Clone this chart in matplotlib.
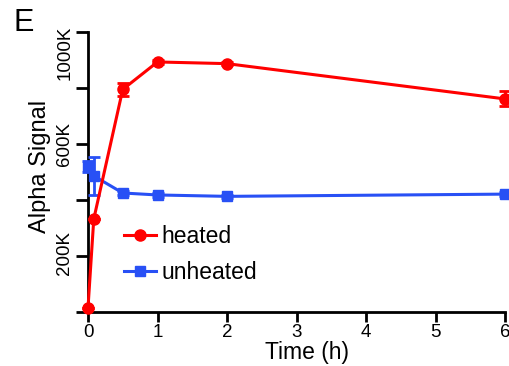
import matplotlib
matplotlib.use("Agg")
import matplotlib.pyplot as plt
from matplotlib.lines import Line2D

plt.rcParams['font.family'] = ['Liberation Sans', 'DejaVu Sans']

# ---- data ----
time_h = [0, 0.083, 0.5, 1, 2, 6]
heated = [15000, 332000, 795000, 893000, 887000, 761000]
heated_err = [0, 0, 23000, 6000, 6000, 27000]
unheated = [521000, 486000, 425000, 418000, 413000, 421000]
unheated_err = [20000, 68000, 8000, 6000, 6000, 6000]

x_ticks = [0, 1, 2, 3, 4, 5, 6]
x_ticklabels = ['0', '1', '2', '3', '4', '5', '6']
y_ticks = [0, 200000, 400000, 600000, 800000, 1000000]
y_label_vals = [200000, 600000, 1000000]
y_label_txt = ['200K', '600K', '1000K']

RED = '#FF0000'
BLUE = '#2850F5'

fig = plt.figure(figsize=(5.09, 3.66), dpi=100)
W, H = 509, 366
ax = fig.add_axes([88 / W, 54 / H, 417 / W, 280 / H])

hb = ax.errorbar(time_h, unheated, yerr=unheated_err, color=BLUE, marker='s',
                 markersize=7.2, linewidth=2.2, elinewidth=2.0, capsize=4.5,
                 capthick=2.0, clip_on=False, zorder=3)
hr = ax.errorbar(time_h, heated, yerr=heated_err, color=RED, marker='o',
                 markersize=8, linewidth=2.2, elinewidth=2.0, capsize=4.5,
                 capthick=2.0, clip_on=False, zorder=4)
for art in (hb, hr):
    for c in art[1]:
        c.set_clip_on(False)
    for c in art[2]:
        c.set_clip_on(False)

ax.set_xlim(0, 6)
ax.set_ylim(0, 1000000)

for s in ['top', 'right']:
    ax.spines[s].set_visible(False)
for s in ['left', 'bottom']:
    ax.spines[s].set_linewidth(2.0)
    ax.spines[s].set_capstyle('projecting')

ax.set_xticks(x_ticks)
ax.set_xticklabels(x_ticklabels, fontsize=13.5)
ax.tick_params(axis='x', direction='out', length=7.5, width=2.0, pad=1.0)
ax.set_yticks(y_ticks)
ax.set_yticklabels([''] * len(y_ticks))
ax.tick_params(axis='y', direction='out', length=8.7, width=2.0)

yoffs = {200000: 2, 600000: 0, 1000000: -15}
for v, t in zip(y_label_vals, y_label_txt):
    ax.annotate(t, xy=(0, v), xycoords=ax.get_yaxis_transform(),
                xytext=(-10.5, yoffs[v]), textcoords='offset points',
                rotation=90, ha='right', va='center', fontsize=13.5,
                annotation_clip=False)

ax.set_xlabel('Time (h)', fontsize=16.5)
ax.xaxis.set_label_coords(0.525, -0.102)
ax.xaxis.label.set_va('top')
ax.set_ylabel('Alpha Signal', fontsize=17)
ax.yaxis.set_label_coords(-0.089, 0.521)

h_heated = Line2D([], [], color=RED, marker='o', markersize=8, linewidth=2.2)
h_unheated = Line2D([], [], color=BLUE, marker='s', markersize=7.2, linewidth=2.2)
leg = ax.legend(handles=[h_heated, h_unheated], labels=['heated', 'unheated'],
                loc='upper left', bbox_to_anchor=(124 / W, 1 - 225 / H),
                bbox_transform=fig.transFigure, frameon=False, fontsize=16.5,
                handlelength=1.4, handletextpad=0.22, borderpad=0,
                borderaxespad=0, labelspacing=0.58)

fig.text(13 / W, 1 - 8 / H, 'E', fontsize=22, ha='left', va='top')

fig.savefig('out.png', dpi=100)
